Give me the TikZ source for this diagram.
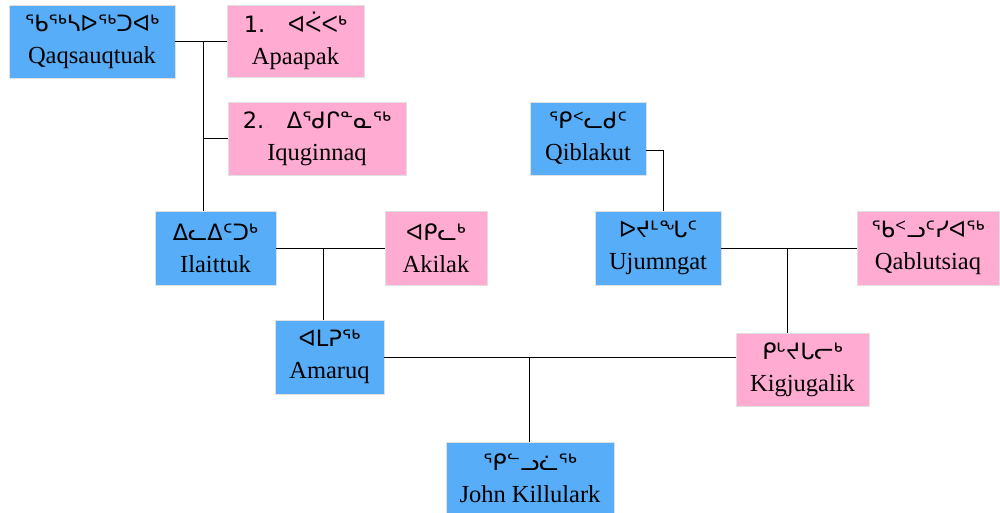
\documentclass[tikz,border=0pt]{standalone}
\usepackage{fontspec}
\setmainfont{Liberation Serif}
\newfontfamily\syl{DejaVu Sans}
\begin{document}
\begin{tikzpicture}[x=1pt,y=-1pt,
  person/.style={draw=black!12, line width=0.6pt, align=center, inner sep=0pt,
    font=\fontsize{24.5}{32}\selectfont},
  male/.style={person, fill={rgb,255:red,87;green,173;blue,247}},
  female/.style={person, fill={rgb,255:red,255;green,171;blue,210}},
  link/.style={draw=black, line width=1pt}]
\useasboundingbox (0,0) rectangle (1000,512);
\newcommand{\sy}[1]{{\syl\fontsize{22.5}{32}\selectfont #1}}
\node[male, minimum width=166, minimum height=73] (qaq) at (92,41.5) {\sy{ᖃᖅᓴᐅᖅᑐᐊᒃ}\\Qaqsauqtuak};
\node[female, minimum width=137, minimum height=72] (apa) at (295.5,41) {\sy{1.\quad ᐊᐹᐸᒃ}\\Apaapak};
\node[female, minimum width=178, minimum height=73] (iqu) at (317,138.5) {\sy{2.\quad ᐃᖁᒋᓐᓇᖅ}\\Iquginnaq};
\node[male, minimum width=121, minimum height=74] (ila) at (215.5,248) {\sy{ᐃᓚᐃᑦᑐᒃ}\\Ilaittuk};
\node[female, minimum width=102, minimum height=74] (aki) at (436,248) {\sy{ᐊᑭᓚᒃ}\\Akilak};
\node[male, minimum width=116, minimum height=73] (qib) at (588,138.5) {\sy{ᕿᑉᓚᑯᑦ}\\Qiblakut};
\node[male, minimum width=126, minimum height=74] (uju) at (658,248) {\sy{ᐅᔪᒻᖓᑦ}\\Ujumngat};
\node[female, minimum width=142, minimum height=74] (qab) at (928,248) {\sy{ᖃᑉᓗᑦᓯᐊᖅ}\\Qablutsiaq};
\node[male, minimum width=109, minimum height=74] (ama) at (329.5,357) {\sy{ᐊᒪᕈᖅ}\\Amaruq};
\node[female, minimum width=133, minimum height=73] (kig) at (802.5,369.5) {\sy{ᑭᒡᔪᒐᓕᒃ}\\Kigjugalik};
\node[male, minimum width=168, minimum height=72] (joh) at (530,478) {\sy{ᕿᓪᓗᓛᖅ}\\John Killulark};
\coordinate (j1) at (203,41.5);
\coordinate (j2) at (203,138.5);
\coordinate (j3) at (323,248);
\coordinate (q1) at (663,150);
\coordinate (j4) at (787,248);
\coordinate (j5) at (529,357);
\draw[link] (qaq.east |- j1) -- (apa.west |- j1);
\draw[link] (j1) -- (j1 |- ila.north);
\draw[link] (j2) -- (iqu.west |- j2);
\draw[link] (ila.east) -- (aki.west);
\draw[link] (j3) -- (j3 |- ama.north);
\draw[link] (qib.east |- q1) -- (q1) -- (q1 |- uju.north);
\draw[link] (uju.east) -- (qab.west);
\draw[link] (j4) -- (j4 |- kig.north);
\draw[link] (ama.east |- j5) -- (kig.west |- j5);
\draw[link] (j5) -- (j5 |- joh.north);
\end{tikzpicture}
\end{document}
